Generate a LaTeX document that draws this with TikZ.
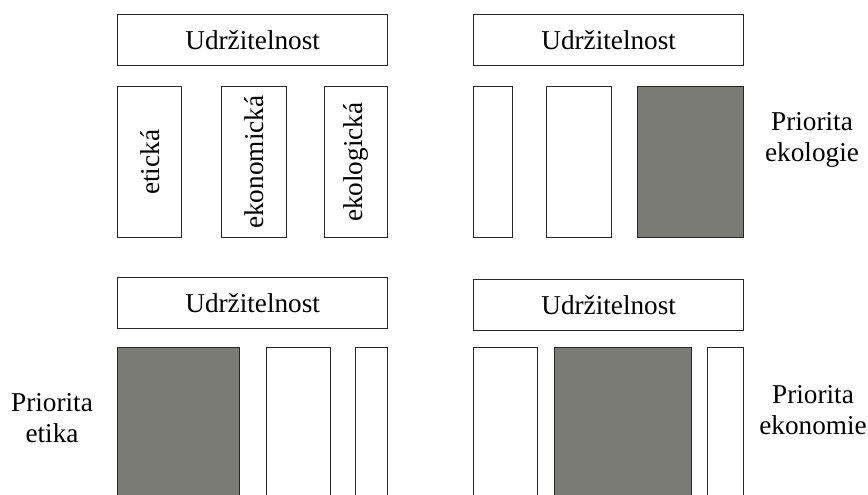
\documentclass[tikz,border=0pt]{standalone}
\usepackage{fontspec}
\setmainfont{Liberation Serif}
\definecolor{pillargray}{RGB}{122,123,116}
\definecolor{edgegray}{RGB}{40,40,40}

\begin{document}
\begin{tikzpicture}
    [
    x=0.02cm, y=-0.02cm
    , roof/.style = {draw=edgegray,line width=0.8pt,inner sep=0pt,anchor=north west,minimum width=5.4cm,minimum height=1.02cm}
    , pillar/.style = {draw=edgegray,line width=0.8pt,inner sep=0pt,anchor=north west,minimum height=3.02cm}
    , deep/.style = {pillar,minimum height=3.2cm}
    , shaded/.style = {fill=pillargray}
    , font=\fontsize{15.5}{18}\selectfont
    ]
\useasboundingbox (0,0) rectangle (868,494);
\clip (0,0) rectangle (868,494);

% upper left: the three pillars with names
\node[roof] (roofA) at (117,14) {Udržitelnost};
\node[pillar,minimum width=1.28cm] (etA) at (117,86) {};
\node[pillar,minimum width=1.30cm] (ekonA) at (221,86) {};
\node[pillar,minimum width=1.26cm] (ekolA) at (324,86) {};
\node[rotate=90] (etAtext) at (etA) {etická};
\node[rotate=90] (ekonAtext) at (ekonA) {ekonomická};
\node[rotate=90] (ekolAtext) at (ekolA) {ekologická};

% upper right
\node[roof] (roofB) at (473,14) {Udržitelnost};
\node[pillar,minimum width=0.78cm] (etB) at (473,86) {};
\node[pillar,minimum width=1.30cm] (ekonB) at (546,86) {};
\node[pillar,shaded,minimum width=2.12cm] (ekolB) at (637,86) {};
\node[align=center] (prioB) at (812,140) {Priorita\\ekologie};

% lower left
\node[roof] (roofC) at (117,277) {Udržitelnost};
\node[deep,shaded,minimum width=2.44cm] (etC) at (117,347) {};
\node[deep,minimum width=1.28cm] (ekonC) at (266,347) {};
\node[deep,minimum width=0.64cm] (ekolC) at (355,347) {};
\node[align=center] (prioC) at (52,418) {Priorita\\etika};

% lower right
\node[roof] (roofD) at (473,279) {Udržitelnost};
\node[deep,minimum width=1.28cm] (etD) at (473,347) {};
\node[deep,shaded,minimum width=2.74cm] (ekonD) at (554,347) {};
\node[deep,minimum width=0.72cm] (ekolD) at (707,347) {};
\node[align=center] (prioD) at (813,410) {Priorita\\ekonomie};
\end{tikzpicture}
\end{document}
